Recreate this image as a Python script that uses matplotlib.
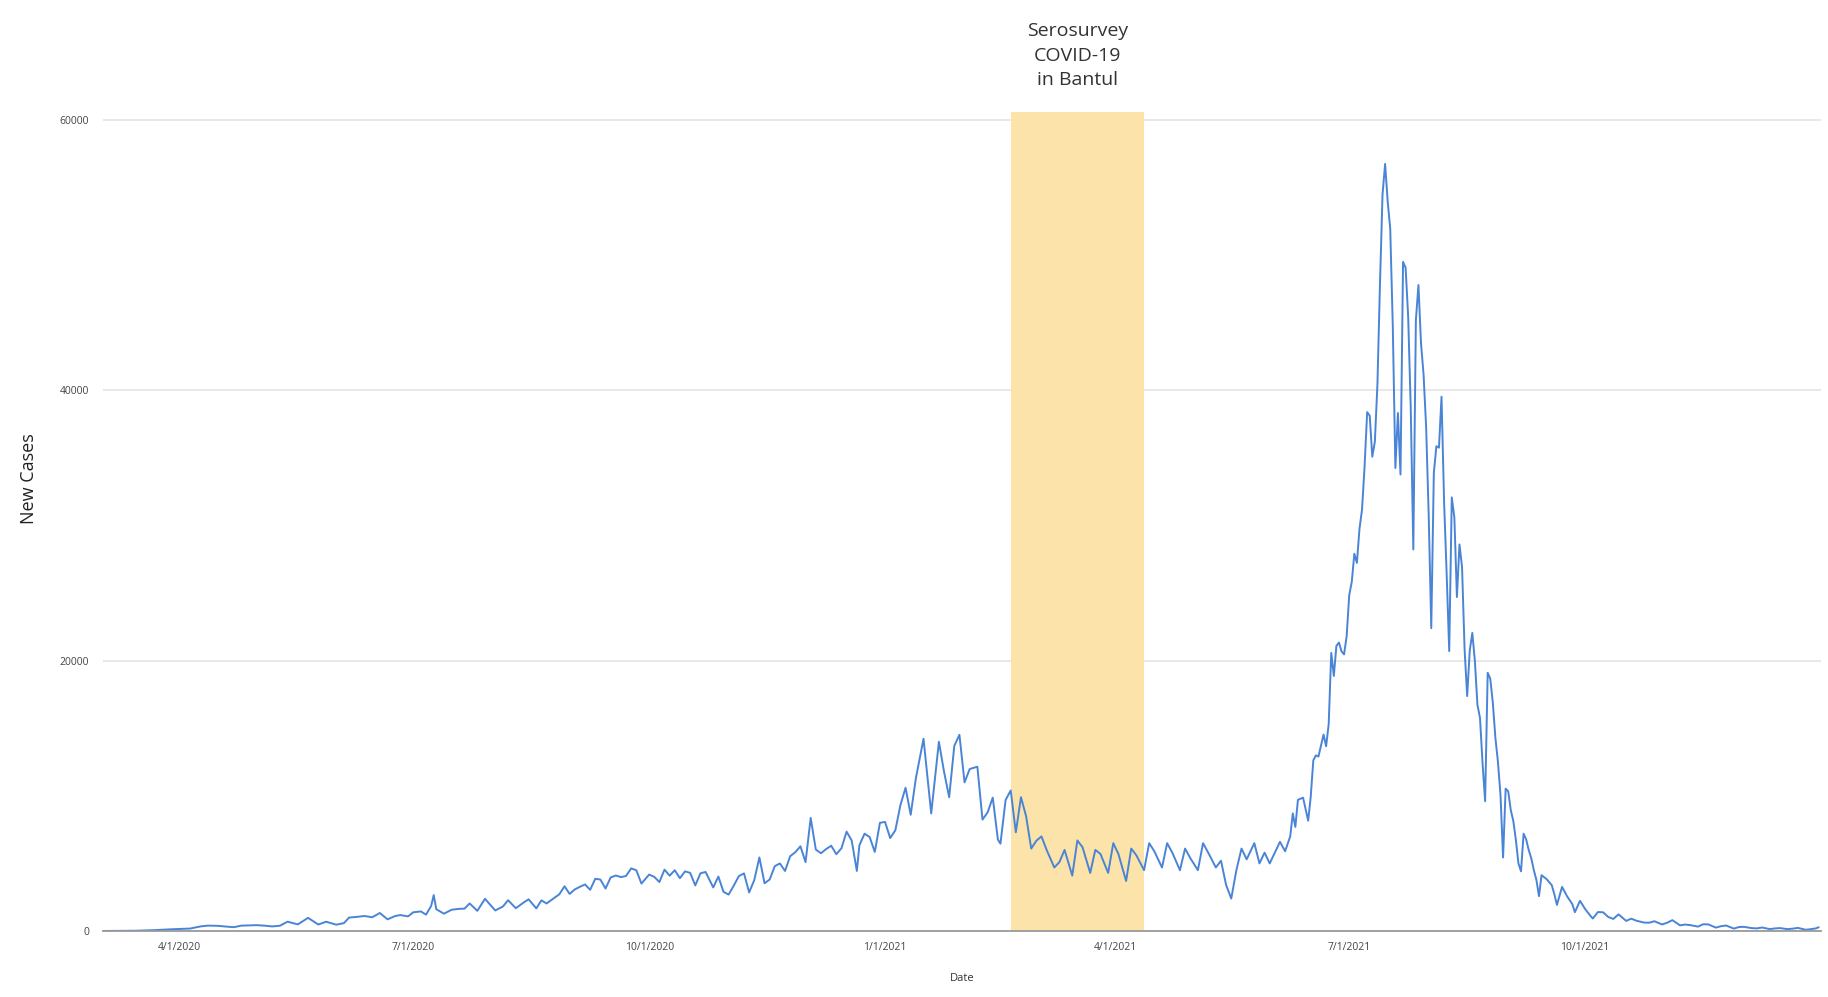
import matplotlib
matplotlib.use('Agg')
import matplotlib.pyplot as plt
import matplotlib.dates as mdates
import pandas as pd

plt.rcParams['font.family'] = ['Open Sans', 'DejaVu Sans']

# daily new cases (denser where the line is spiky)
dates = [
    '2020-03-02', '2020-03-15', '2020-03-22', '2020-03-29',
    '2020-04-01', '2020-04-05', '2020-04-09', '2020-04-12', '2020-04-16', '2020-04-19', '2020-04-22', '2020-04-25', '2020-04-28',
    '2020-05-01', '2020-05-04', '2020-05-07', '2020-05-10', '2020-05-13', '2020-05-17', '2020-05-21', '2020-05-25', '2020-05-28',
    '2020-06-01', '2020-06-04', '2020-06-06', '2020-06-09', '2020-06-12', '2020-06-15', '2020-06-18', '2020-06-21', '2020-06-24', '2020-06-26', '2020-06-29',
    '2020-07-01', '2020-07-04', '2020-07-06', '2020-07-08', '2020-07-09', '2020-07-10', '2020-07-13', '2020-07-16', '2020-07-19', '2020-07-21', '2020-07-23', '2020-07-26', '2020-07-29',
    '2020-08-02', '2020-08-05', '2020-08-07', '2020-08-10', '2020-08-13', '2020-08-15', '2020-08-18', '2020-08-20', '2020-08-22', '2020-08-25', '2020-08-27', '2020-08-29', '2020-08-31',
    '2020-09-02', '2020-09-04', '2020-09-06', '2020-09-08', '2020-09-10', '2020-09-12', '2020-09-14', '2020-09-16', '2020-09-18', '2020-09-20', '2020-09-22', '2020-09-24', '2020-09-26', '2020-09-28',
    '2020-10-01', '2020-10-03', '2020-10-05', '2020-10-07', '2020-10-09', '2020-10-11', '2020-10-13', '2020-10-15', '2020-10-17', '2020-10-19', '2020-10-21', '2020-10-23', '2020-10-26', '2020-10-28', '2020-10-30',
    '2020-11-01', '2020-11-03', '2020-11-05', '2020-11-07', '2020-11-09', '2020-11-11', '2020-11-13', '2020-11-15', '2020-11-17', '2020-11-19', '2020-11-21', '2020-11-23', '2020-11-25', '2020-11-27', '2020-11-29',
    '2020-12-01', '2020-12-03', '2020-12-05', '2020-12-07', '2020-12-09', '2020-12-11', '2020-12-13', '2020-12-15', '2020-12-17', '2020-12-19', '2020-12-21', '2020-12-22', '2020-12-24', '2020-12-26', '2020-12-28', '2020-12-30',
    '2021-01-01', '2021-01-03', '2021-01-05', '2021-01-07', '2021-01-09', '2021-01-11', '2021-01-13', '2021-01-16', '2021-01-19', '2021-01-22', '2021-01-24', '2021-01-26', '2021-01-28', '2021-01-30',
    '2021-02-01', '2021-02-03', '2021-02-06', '2021-02-08', '2021-02-10', '2021-02-12', '2021-02-14', '2021-02-15', '2021-02-17', '2021-02-19', '2021-02-21', '2021-02-23', '2021-02-25', '2021-02-27',
    '2021-03-01', '2021-03-03', '2021-03-05', '2021-03-08', '2021-03-10', '2021-03-12', '2021-03-15', '2021-03-17', '2021-03-19', '2021-03-22', '2021-03-24', '2021-03-26', '2021-03-29', '2021-03-31',
    '2021-04-02', '2021-04-05', '2021-04-07', '2021-04-09', '2021-04-12', '2021-04-14', '2021-04-16', '2021-04-19', '2021-04-21', '2021-04-23', '2021-04-26', '2021-04-28', '2021-04-30',
    '2021-05-03', '2021-05-05', '2021-05-07', '2021-05-10', '2021-05-12', '2021-05-14', '2021-05-16', '2021-05-18', '2021-05-20', '2021-05-22', '2021-05-25', '2021-05-27', '2021-05-29', '2021-05-31',
    '2021-06-02', '2021-06-04', '2021-06-06', '2021-06-08', '2021-06-09', '2021-06-10', '2021-06-11', '2021-06-13', '2021-06-15', '2021-06-16', '2021-06-17', '2021-06-18', '2021-06-19', '2021-06-20', '2021-06-21', '2021-06-22', '2021-06-23', '2021-06-24', '2021-06-25', '2021-06-26', '2021-06-27', '2021-06-28', '2021-06-29', '2021-06-30',
    '2021-07-01', '2021-07-02', '2021-07-03', '2021-07-04', '2021-07-05', '2021-07-06', '2021-07-07', '2021-07-08', '2021-07-09', '2021-07-10', '2021-07-11', '2021-07-12', '2021-07-13', '2021-07-14', '2021-07-15', '2021-07-16',
    '2021-07-17', '2021-07-18', '2021-07-19', '2021-07-20', '2021-07-21', '2021-07-22', '2021-07-23', '2021-07-24', '2021-07-25', '2021-07-26', '2021-07-27', '2021-07-28', '2021-07-29', '2021-07-30', '2021-07-31',
    '2021-08-01', '2021-08-02', '2021-08-03', '2021-08-04', '2021-08-05', '2021-08-06', '2021-08-07', '2021-08-08', '2021-08-09', '2021-08-10', '2021-08-11', '2021-08-12', '2021-08-13', '2021-08-14', '2021-08-15', '2021-08-16',
    '2021-08-17', '2021-08-18', '2021-08-19', '2021-08-20', '2021-08-21', '2021-08-22', '2021-08-23', '2021-08-24', '2021-08-25', '2021-08-26', '2021-08-27', '2021-08-28', '2021-08-29', '2021-08-30', '2021-08-31',
    '2021-09-01', '2021-09-02', '2021-09-03', '2021-09-04', '2021-09-05', '2021-09-06', '2021-09-07', '2021-09-08', '2021-09-09', '2021-09-10', '2021-09-11', '2021-09-12', '2021-09-13', '2021-09-14', '2021-09-16', '2021-09-18', '2021-09-19', '2021-09-20', '2021-09-22', '2021-09-24', '2021-09-26', '2021-09-27', '2021-09-29',
    '2021-10-01', '2021-10-03', '2021-10-04', '2021-10-06', '2021-10-08', '2021-10-10', '2021-10-12', '2021-10-14', '2021-10-17', '2021-10-19', '2021-10-21', '2021-10-24', '2021-10-26', '2021-10-28', '2021-10-31',
    '2021-11-02', '2021-11-04', '2021-11-07', '2021-11-09', '2021-11-11', '2021-11-14', '2021-11-16', '2021-11-18', '2021-11-21', '2021-11-23', '2021-11-25', '2021-11-28', '2021-11-30',
    '2021-12-02', '2021-12-05', '2021-12-07', '2021-12-09', '2021-12-12', '2021-12-14', '2021-12-16', '2021-12-19', '2021-12-21', '2021-12-23', '2021-12-26', '2021-12-28', '2021-12-30', '2021-12-31',
]
new_cases = [
    2, 21, 64, 130,
    149, 181, 337, 399, 380, 327, 283, 396, 415,
    433, 395, 338, 387, 689, 489, 973, 479, 687,
    467, 585, 993, 1043, 1111, 1017, 1331, 862, 1113, 1178, 1082,
    1385, 1447, 1209, 1853, 2657, 1611, 1282, 1574, 1639, 1655, 2040, 1492, 2381,
    1519, 1815, 2277, 1687, 2098, 2345, 1673, 2266, 2037, 2447, 2719, 3308, 2743,
    3075, 3269, 3444, 3046, 3861, 3806, 3141, 3963, 4106, 3989, 4071, 4634, 4494, 3509,
    4174, 4007, 3622, 4538, 4094, 4497, 3906, 4411, 4301, 3373, 4267, 4369, 3222, 4029, 2897,
    2696, 3356, 4065, 4262, 2853, 3770, 5444, 3535, 3807, 4798, 4998, 4442, 5534, 5828, 6267,
    5092, 8369, 6027, 5754, 6058, 6310, 5681, 6120, 7354, 6689, 4442, 6347, 7199, 6951, 5854, 8002,
    8072, 6877, 7445, 9321, 10600, 8600, 11278, 14224, 8700, 14000, 11788, 9900, 13695, 14518,
    10994, 11984, 12156, 8242, 8776, 9869, 6765, 6462, 9687, 10400, 7300, 9900, 8493, 6100,
    6680, 7000, 6000, 4700, 5100, 6000, 4100, 6700, 6200, 4300, 6000, 5700, 4300, 6500,
    5700, 3700, 6100, 5600, 4500, 6500, 5900, 4700, 6500, 5800, 4500, 6100, 5400,
    4500, 6500, 5800, 4700, 5200, 3400, 2400, 4500, 6100, 5300, 6500, 5000, 5800, 5000,
    5800, 6600, 5900, 7000, 8700, 7700, 9700, 9868, 8161, 9944, 12624, 12990, 12906, 13737, 14536, 13668, 15308, 20574, 18872, 21095, 21342, 20694, 20467, 21807,
    24836, 25830, 27913, 27233, 29745, 31189, 34379, 38391, 38124, 35094, 36197, 40427, 47899, 54517, 56757, 54000,
    51952, 44721, 34257, 38325, 33772, 49509, 49071, 45416, 38679, 28228, 45203, 47791, 43479, 41168, 37284,
    30738, 22404, 33900, 35867, 35764, 39532, 31753, 26415, 20709, 32081, 30625, 24709, 28598, 26933, 20813, 17384,
    20741, 22053, 20004, 16744, 15768, 12408, 9604, 19106, 18671, 16899, 14306, 12510, 10050, 5436, 10534,
    10337, 8955, 8130, 6727, 4991, 4413, 7201, 6785, 5990, 5376, 4500, 3779, 2577, 4128, 3835, 3385, 2720, 1932, 3263, 2557, 1994, 1390, 2234,
    1624, 1142, 922, 1404, 1384, 1040, 892, 1233, 747, 914, 760, 623, 612, 722, 484,
    612, 803, 418, 477, 435, 324, 495, 490, 251, 356, 406, 176, 297,
    305, 213, 194, 258, 142, 190, 215, 136, 175, 229, 92, 135, 194, 271,
]
assert len(dates) == len(new_cases)

survey_window = ['2021-02-19', '2021-04-12']
survey_label = 'Serosurvey\nCOVID-19\nin Bantul'
x_ticks = ['2020-04-01', '2020-07-01', '2020-10-01', '2021-01-01',
           '2021-04-01', '2021-07-01', '2021-10-01']
y_ticks = [0, 20000, 40000, 60000]

x = pd.to_datetime(dates)

fig = plt.figure(figsize=(18.28, 9.97), dpi=100)
ax = fig.add_axes([0.0563, 0.0662, 0.9399, 0.8215])

ax.axvspan(pd.Timestamp(survey_window[0]), pd.Timestamp(survey_window[1]),
           color='#fbe3a9', zorder=1, lw=0)
ax.plot(x, new_cases, color='#4a84d6', lw=1.4, zorder=3)

mid = pd.Timestamp(survey_window[0]) + (pd.Timestamp(survey_window[1]) - pd.Timestamp(survey_window[0])) / 2
ax.text(mid, 1.028, survey_label, transform=ax.get_xaxis_transform(),
        ha='center', va='bottom', fontsize=14, color='#333333', linespacing=1.45)

ax.set_xlim(pd.Timestamp('2020-03-02'), pd.Timestamp('2022-01-01'))
ax.set_ylim(0, 60600)
ax.set_yticks(y_ticks)
ax.set_yticklabels([str(v) for v in y_ticks])
ax.set_xticks(pd.to_datetime(x_ticks))
ax.xaxis.set_major_formatter(mdates.DateFormatter('%-m/%-d/%Y'))
ax.tick_params(axis='both', length=0, labelsize=7.5, colors='#444444')
ax.tick_params(axis='x', pad=8)
ax.tick_params(axis='y', pad=10)

ax.grid(axis='y', color='#e6e6e6', lw=1.3, zorder=0)
ax.set_axisbelow(True)
for side in ['top', 'right', 'left']:
    ax.spines[side].set_visible(False)
ax.spines['bottom'].set_color('#9a9a9a')
ax.spines['bottom'].set_linewidth(1.3)
ax.spines['bottom'].set_zorder(4)

ax.set_xlabel('Date', fontsize=8, color='#333333', labelpad=14)
fig.text(0.016, 0.52, 'New Cases', rotation=90, ha='center', va='center',
         fontsize=13, color='#222222')

fig.savefig('out.png', dpi=100)
